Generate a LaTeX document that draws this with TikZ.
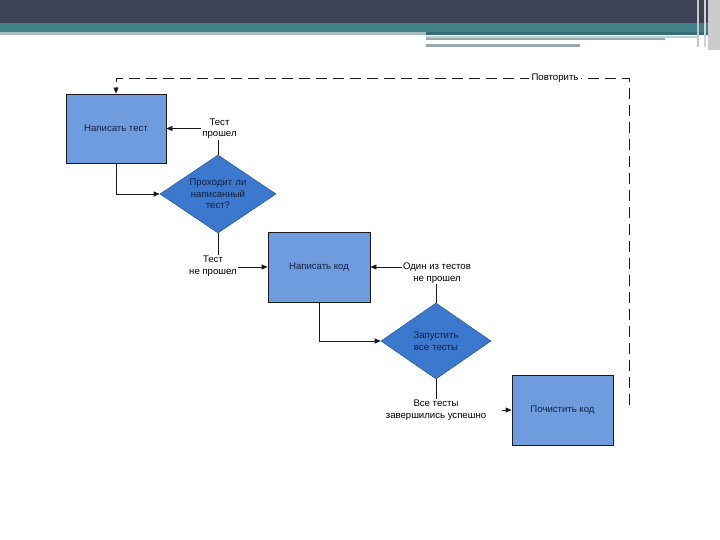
\documentclass[tikz,border=0pt]{standalone}
\usepackage{fontspec}
\setmainfont{Liberation Sans}
\usetikzlibrary{shapes.geometric,arrows.meta,calc}
\definecolor{hdark}{HTML}{3E4356}
\definecolor{hteal}{HTML}{3F8089}
\definecolor{hgrey}{HTML}{A9BCC4}
\definecolor{boxfill}{HTML}{6F9CDE}
\definecolor{diafill}{HTML}{3C78CE}
\definecolor{diaedge}{HTML}{2C5FA8}
\definecolor{navy}{HTML}{16203F}
\definecolor{lnk}{HTML}{1A1A1A}
\tikzset{
  stepbox/.style={draw=lnk, line width=0.8pt, fill=boxfill, minimum width=#1, minimum height=70pt, inner sep=0pt, text=navy, font=\fontsize{9.6}{11.5}\selectfont},
  decision/.style={diamond, draw=diaedge, line width=0.6pt, fill=diafill, aspect=1.5, inner sep=0pt, text=navy, align=center, font=\fontsize{9.6}{11.5}\selectfont},
  lbl/.style={align=center, inner sep=1pt, text=black, font=\fontsize{9.6}{11.5}\selectfont},
  conn/.style={draw=lnk, line width=0.8pt},
  arr/.style={conn, -{Triangle[length=6pt,width=5pt]}},
  loop/.style={conn, dash pattern=on 11pt off 6pt}
}
\begin{document}
\begin{tikzpicture}[x=1pt,y=-1pt]
\useasboundingbox (0,0) rectangle (720,540);
% header
\fill[white] (0,0) rectangle (720,540);
\fill[hdark] (0,0) rectangle (720,23);
\fill[hteal] (0,23) rectangle (720,32);
\fill[hgrey] (0,32) rectangle (426,35);
\fill[hteal!85!black] (426,32) rectangle (720,35);
\fill[hteal!35!white] (426,36) rectangle (697,38);
\fill[hgrey!90!black] (426,38) rectangle (665,40.5);
\fill[hgrey!90!black] (426,44) rectangle (580,47);
\fill[gray!45] (697,0) rectangle (699,47);
\fill[gray!35] (704,0) rectangle (706,47);
\fill[gray!40!white] (708,0) rectangle (720,50);

% nodes
\node[stepbox=100pt, minimum height=69pt] (box1) at (116,128.5) {Написать тест};
\node[decision, minimum width=116pt, minimum height=78pt, text width=64pt] (d1) at (218,194) {Проходит ли\\написанный\\тест?};
\node[stepbox=102pt] (box2) at (319,267) {Написать код};
\node[decision, minimum width=110pt, minimum height=76pt, text width=58pt] (d2) at (436,341) {Запустить\\все тесты};
\node[stepbox=101pt] (box3) at (562.5,410) {Почистить код};

\node[lbl] (l1) at (219.5,128.5) {Тест\\прошел};
\node[lbl] (l2) at (213,266) {Тест\\не прошел};
\node[lbl] (l3) at (437,273) {Один из тестов\\не прошел};
\node[lbl] (l4) at (436,410) {Все тесты\\завершились успешно};

\coordinate (rstart) at (629,405);
\coordinate (rtop) at (629,78);
\coordinate (ltop) at (116,78);

% connectors
\draw[arr] (l1.west) -- (box1.east);
\draw[conn] (l1.south -| d1.north) -- (d1.north);
\draw[arr] (box1.south) |- (d1.west);
\draw[conn] (d1.south) -- (d1.south |- l2.north);
\draw[arr] (l2.east |- box2.west) -- (box2.west);
\draw[arr] (l3.west |- box2.east) -- (box2.east);
\draw[conn] (l3.south -| d2.north) -- (d2.north);
\draw[arr] (box2.south) |- (d2.west);
\draw[conn] (d2.south) -- (d2.south |- l4.north);
\draw[arr, shorten <=15pt] (l4.east) -- (box3.west);

\draw[loop] (rstart) -- (rtop) -- (ltop) -- ($(box1.north)+(0,-7)$);
\draw[arr] ($(box1.north)+(0,-7)$) -- (box1.north);
\node[lbl, fill=white, inner sep=3pt] (rep) at (555,78) {Повторить};
\end{tikzpicture}
\end{document}
